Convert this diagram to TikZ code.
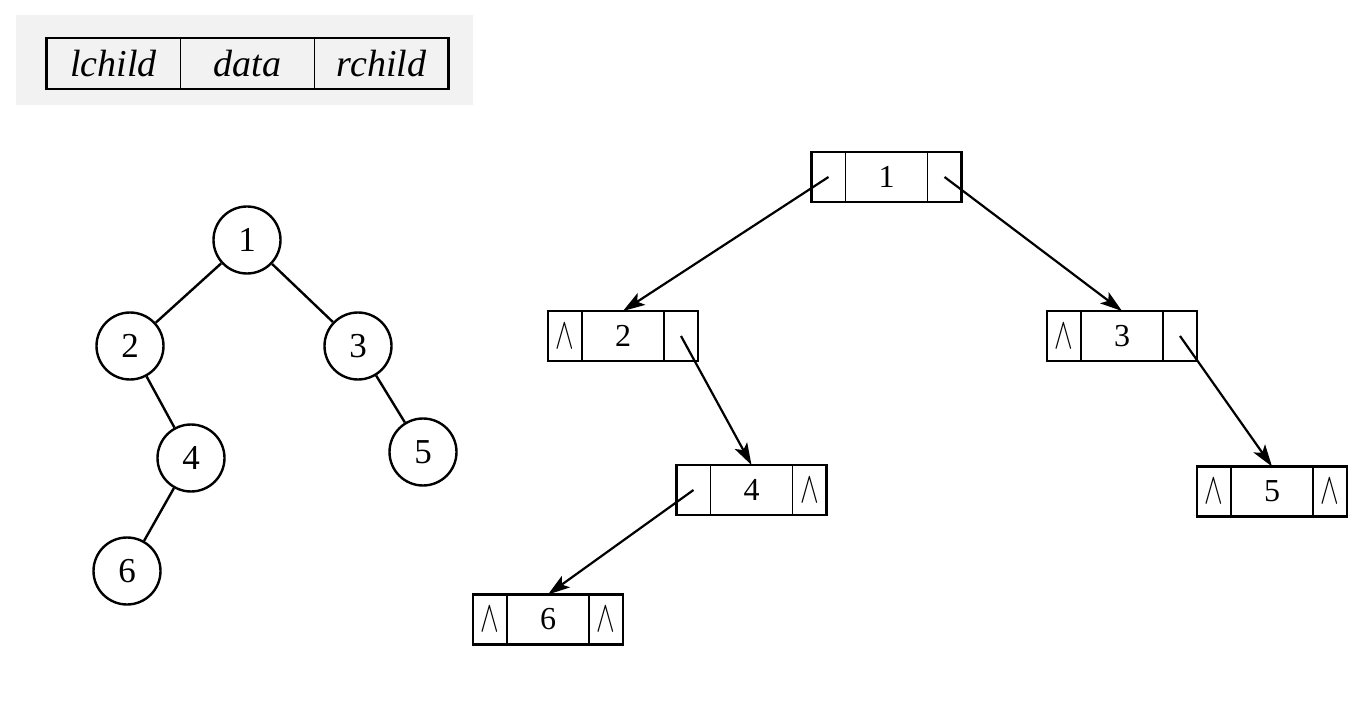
\documentclass[tikz,border=0pt]{standalone}
\usepackage{fontspec}
\setmainfont{Liberation Serif}
\usepackage{graphicx}
\usetikzlibrary{positioning,arrows.meta}

\definecolor{panel}{HTML}{F2F2F2}
\newcommand{\nil}{\scalebox{2.8}[4.4]{\fontsize{10}{12}\selectfont$\wedge$}}

\tikzset{
  treenode/.style={shape=circle, draw, line width=2.4pt, minimum size=67pt,
    inner sep=0pt, font=\fontsize{35}{35}\selectfont},
  edge/.style={line width=2.4pt},
  cell/.style={shape=rectangle, draw, line width=1.5pt, minimum height=50pt,
    inner sep=0pt, outer sep=0pt, font=\fontsize{32}{32}\selectfont},
  datacell/.style={cell, minimum width=82pt},
  ptrcell/.style={cell, minimum width=34pt},
  headcell/.style={cell, minimum height=51pt, minimum width=134pt,
    font=\fontsize{38}{38}\selectfont\itshape},
  frame/.style={line width=2.6pt},
  link/.style={line width=2.2pt, -{Stealth[length=22pt, width=14pt, inset=5pt]}}
}

\begin{document}
\begin{tikzpicture}[x=1pt, y=-1pt]
  \fill[white] (0, 0) rectangle (1368, 708);
  \useasboundingbox (0, 0) rectangle (1368, 708);

  % node layout
  \fill[panel] (16, 15) rectangle (473, 105);
  \node (hd) at (247.5, 63.5) [headcell] {data};
  \node (hl) [headcell, left=0pt of hd] {lchild};
  \node (hr) [headcell, right=0pt of hd] {rchild};
  \draw[frame] (hl.north west) rectangle (hr.south east);

  % binary tree
  \node (t1) at (247, 240) [treenode] {1};
  \node (t2) at (130, 346) [treenode] {2};
  \node (t3) at (358, 346) [treenode] {3};
  \node (t4) at (191, 458) [treenode] {4};
  \node (t5) at (423, 452) [treenode] {5};
  \node (t6) at (127, 571) [treenode] {6};
  \draw[edge] (t1) -- (t2);
  \draw[edge] (t1) -- (t3);
  \draw[edge] (t2) -- (t4);
  \draw[edge] (t3) -- (t5);
  \draw[edge] (t4) -- (t6);

  % linked representation
  \node (d1) at (886.5, 177) [datacell] {1};
  \node (l1) [ptrcell, left=0pt of d1] {};
  \node (r1) [ptrcell, right=0pt of d1] {};
  \node (d2) at (623, 336) [datacell] {2};
  \node (l2) [ptrcell, left=0pt of d2] {\nil};
  \node (r2) [ptrcell, right=0pt of d2] {};
  \node (d3) at (1122, 336) [datacell] {3};
  \node (l3) [ptrcell, left=0pt of d3] {\nil};
  \node (r3) [ptrcell, right=0pt of d3] {};
  \node (d4) at (751.5, 490) [datacell] {4};
  \node (l4) [ptrcell, left=0pt of d4] {};
  \node (r4) [ptrcell, right=0pt of d4] {\nil};
  \node (d5) at (1272, 491.5) [datacell] {5};
  \node (l5) [ptrcell, left=0pt of d5] {\nil};
  \node (r5) [ptrcell, right=0pt of d5] {\nil};
  \node (d6) at (548, 619.5) [datacell] {6};
  \node (l6) [ptrcell, left=0pt of d6] {\nil};
  \node (r6) [ptrcell, right=0pt of d6] {\nil};
  \foreach \i in {1,...,6}
    \draw[frame] (l\i.north west) rectangle (r\i.south east);

  \draw[link] (l1.center) -- (d2.north);
  \draw[link] (r1.center) -- (d3.north);
  \draw[link] (r2.center) -- (d4.north);
  \draw[link] (r3.center) -- (d5.north);
  \draw[link] (l4.center) -- (d6.north);
\end{tikzpicture}
\end{document}
